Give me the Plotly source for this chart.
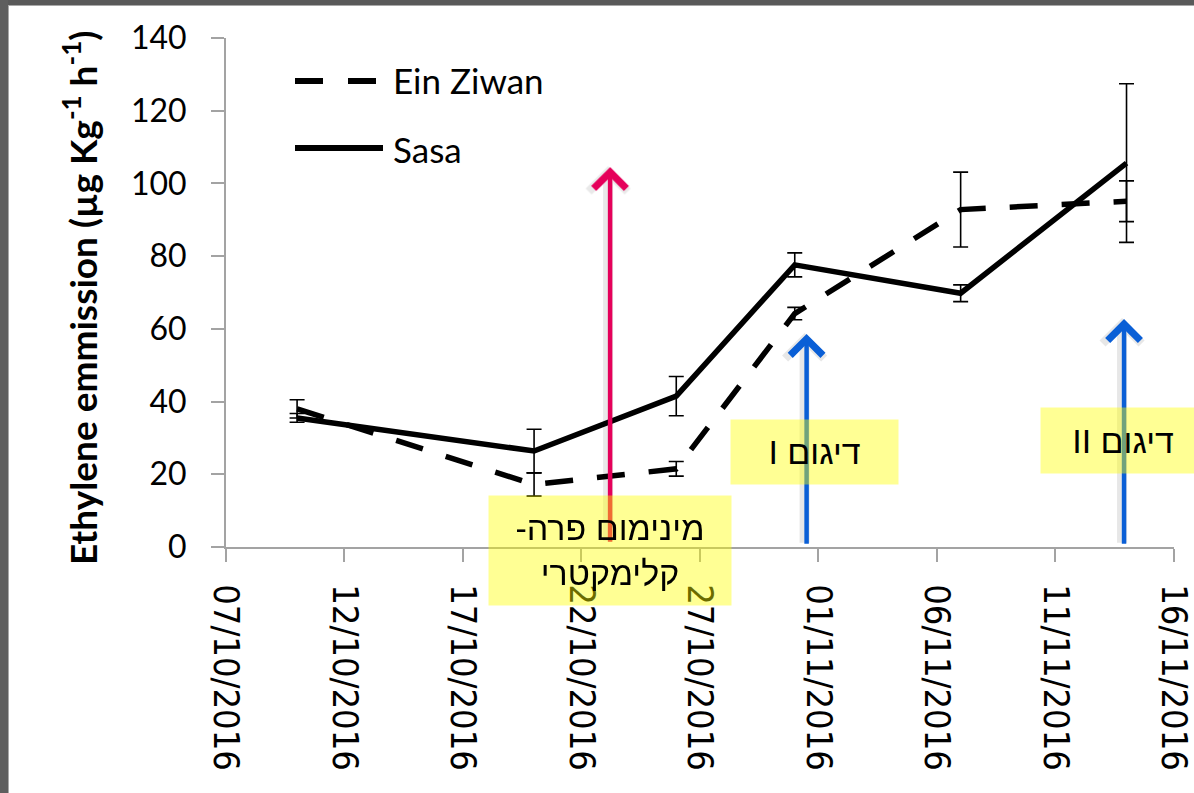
import plotly.graph_objects as go

# Sampling dates and ethylene emission (µg Kg-1 h-1) with standard errors
dates = ["2016-10-10", "2016-10-20", "2016-10-26", "2016-10-31", "2016-11-07", "2016-11-14"]
ein_ziwan = [38.0, 17.2, 21.5, 64.2, 92.8, 95.1]
ein_ziwan_err = [2.5, 3.2, 2.0, 1.7, 10.3, 5.6]
sasa = [35.5, 26.4, 41.5, 77.6, 69.8, 105.6]
sasa_err = [1.2, 6.0, 5.4, 3.3, 2.3, 21.8]

tick_dates = ["2016-10-07", "2016-10-12", "2016-10-17", "2016-10-22", "2016-10-27",
              "2016-11-01", "2016-11-06", "2016-11-11", "2016-11-16"]
tick_labels = ["07/10/2016", "12/10/2016", "17/10/2016", "22/10/2016", "27/10/2016",
               "01/11/2016", "06/11/2016", "11/11/2016", "16/11/2016"]
y_ticks = [0, 20, 40, 60, 80, 100, 120, 140]

W, H = 1194, 793
L, R, T, B = 226, 20, 38, 246
PW, PH = W - L - R, H - T - B


def px(x):
    return (x - L) / PW


def py(y):
    return (H - B - y) / PH


fig = go.Figure()

fig.add_trace(go.Scatter(
    x=dates, y=ein_ziwan, mode="lines", name="Ein Ziwan", showlegend=False,
    line=dict(color="black", width=5.5, dash="28px,24px"),
    error_y=dict(type="data", array=ein_ziwan_err, color="black", thickness=1.6, width=7.5),
))
fig.add_trace(go.Scatter(
    x=dates, y=sasa, mode="lines", name="Sasa", showlegend=False,
    line=dict(color="black", width=5.5),
    error_y=dict(type="data", array=sasa_err, color="black", thickness=1.6, width=7.5),
))

shapes = []
annotations = []

# window-style frame along the top and left edges
shapes += [
    dict(type="rect", xref="paper", yref="paper", x0=px(0), x1=px(W), y0=py(5), y1=py(0),
         fillcolor="#595959", line=dict(width=0), layer="above"),
    dict(type="rect", xref="paper", yref="paper", x0=px(0), x1=px(8), y0=py(H), y1=py(0),
         fillcolor="#5e5e5e", line=dict(width=0), layer="above"),
    dict(type="line", xref="paper", yref="paper", x0=px(8), x1=px(W), y0=py(5.5), y1=py(5.5),
         line=dict(color="#a8a8a8", width=1), layer="above"),
    dict(type="line", xref="paper", yref="paper", x0=px(8.5), x1=px(8.5), y0=py(H), y1=py(5),
         line=dict(color="#a8a8a8", width=1), layer="above"),
]

# legend drawn by hand so the line samples have the long form
shapes += [
    dict(type="line", xref="paper", yref="paper", x0=px(295), x1=px(383), y0=py(81), y1=py(81),
         line=dict(color="black", width=6, dash="28px,25px")),
    dict(type="line", xref="paper", yref="paper", x0=px(295), x1=px(383), y0=py(148), y1=py(148),
         line=dict(color="black", width=6)),
]
for label, yy in [("Ein Ziwan", 80), ("Sasa", 149)]:
    annotations.append(dict(
        text=label, xref="paper", yref="paper", x=px(391), y=py(yy),
        xanchor="left", yanchor="middle", showarrow=False,
        font=dict(family="Lato", size=35, color="black"),
    ))

# y-axis title
annotations.append(dict(
    text="<b>Ethylene emmission (µg Kg<sup>-1</sup> h<sup>-1</sup>)</b>",
    xref="paper", yref="paper", x=px(80), y=py(298), textangle=-90,
    xanchor="center", yanchor="middle", showarrow=False,
    font=dict(family="Lato", size=37, color="black"),
))

# arrows marking the pre-climacteric minimum and the two samplings
arrows = [
    ("2016-10-23 05:00", 104.5, 1.0, "#E5005A"),
    ("2016-10-31 12:00", 58.6, 0.5, "#0A5FD6"),
    ("2016-11-13 21:30", 62.7, 0.5, "#0A5FD6"),
]
# soft drop shadow under each arrow
for ax_date, tip, base, col in arrows:
    annotations.append(dict(
        x=ax_date, y=tip, ax=ax_date, ay=base, xref="x", yref="y", axref="x", ayref="y",
        text="", showarrow=True, arrowhead=4, arrowsize=0.75, arrowwidth=10,
        arrowcolor="rgba(0,0,0,0.09)", standoff=0, xshift=-2, yshift=1,
    ))
for ax_date, tip, base, col in arrows:
    annotations.append(dict(
        x=ax_date, y=tip, ax=ax_date, ay=base, xref="x", yref="y", axref="x", ayref="y",
        text="", showarrow=True, arrowhead=4, arrowsize=1.4, arrowwidth=4.5,
        arrowcolor=col, standoff=0,
    ))

# translucent yellow labels on top of the arrows
RLE, PDF = "\u202b", "\u202c"
boxes = [
    (RLE + "מינימום פרה-" + PDF + "<br>" + RLE + "קלימקטרי" + PDF, 610, 550.5, 242, 109),
    (RLE + "דיגום I" + PDF, 814.5, 452, 167, 64),
    (RLE + "דיגום II" + PDF, 1123, 440, 164, 65),
]
for txt, cx, cy, bw, bh in boxes:
    annotations.append(dict(
        text=txt, xref="paper", yref="paper", x=px(cx), y=py(cy),
        xanchor="center", yanchor="middle", showarrow=False,
        width=bw, height=bh, borderpad=0, align="center", valign="middle",
        bgcolor="rgba(255,255,0,0.42)",
        font=dict(family="Liberation Sans", size=34, color="black"),
    ))

fig.update_layout(
    width=W, height=H,
    margin=dict(l=L, r=R, t=T, b=B, pad=0, autoexpand=False),
    paper_bgcolor="white", plot_bgcolor="white",
    showlegend=False,
    shapes=shapes, annotations=annotations,
    xaxis=dict(
        type="date", range=["2016-10-07", "2016-11-16 00:05"],
        tickmode="array", tickvals=tick_dates, ticktext=tick_labels, tickangle=90,
        ticklabeloverflow="allow", automargin=False,
        showgrid=False, zeroline=False,
        showline=True, linecolor="#a3a3a3", linewidth=2,
        ticks="outside", ticklen=13, tickwidth=2, tickcolor="#a3a3a3",
        tickfont=dict(family="DejaVu Sans Condensed, DejaVu Sans", size=36, color="black"),
        ticklabelstandoff=15,
    ),
    yaxis=dict(
        range=[0, 140], tickmode="array", tickvals=y_ticks, automargin=False,
        showgrid=False, zeroline=False,
        showline=True, linecolor="#a3a3a3", linewidth=2,
        ticks="outside", ticklen=13, tickwidth=2, tickcolor="#a3a3a3",
        tickfont=dict(family="Lato", size=32, color="black"),
        ticklabelstandoff=18,
    ),
)

# the last date label runs flush to the page edge; keep the page from scrolling
fig.write_html(
    "out.html",
    post_script="document.documentElement.style.overflow='hidden';"
                "document.body.style.overflow='hidden';",
)
